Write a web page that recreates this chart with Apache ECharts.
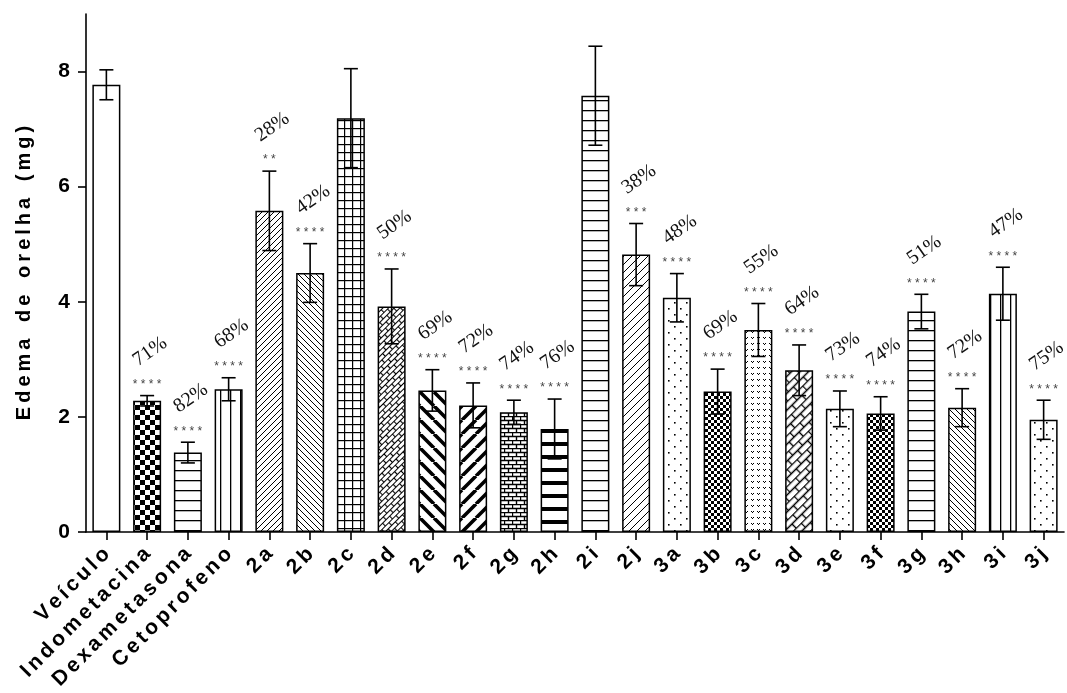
<!DOCTYPE html>
<html>
<head>
<meta charset="utf-8">
<script src="https://cdn.jsdelivr.net/npm/echarts@6/dist/echarts.min.js"></script>
<style>
html,body{margin:0;padding:0;background:#fff;}
#chart{width:1067px;height:693px;}
</style>
</head>
<body>
<div id="chart"></div>
<script>
// ---- data ----
const categories = ['Veículo','Indometacina','Dexametasona','Cetoprofeno','2a','2b','2c','2d','2e','2f','2g','2h','2i','2j','3a','3b','3c','3d','3e','3f','3g','3h','3i','3j'];
const means  = [7.77,2.28,1.38,2.48,5.58,4.50,7.19,3.92,2.46,2.20,2.08,1.79,7.58,4.82,4.07,2.44,3.51,2.81,2.14,2.06,3.83,2.16,4.14,1.95];
const errors = [0.26,0.09,0.18,0.20,0.69,0.51,0.86,0.65,0.36,0.39,0.21,0.52,0.86,0.54,0.42,0.39,0.46,0.44,0.31,0.29,0.30,0.33,0.46,0.34];
const inhibition = ['','71%','82%','68%','28%','42%','','50%','69%','72%','74%','76%','','38%','48%','69%','55%','64%','73%','74%','51%','72%','47%','75%'];
const significance = ['','****','****','****','**','****','','****','****','****','****','****','','***','****','****','****','****','****','****','****','****','****','****'];
const yTicks = [0,2,4,6,8];

// ---- styles (fill patterns per bar) ----
const patternNames = ['white','checker','hlines','vlines','diagR','diagL','grid','herring','thickL','thickR','brick','thickH','hlines','diagRwide','dots','fineChecker','vdots','herringBig','dots','fineChecker','hlines','diagL','vlines','dots'];

function mk(w,h,draw){
  const c=document.createElement('canvas'); c.width=w; c.height=h;
  const g=c.getContext('2d'); g.fillStyle='#fff'; g.fillRect(0,0,w,h);
  g.fillStyle='#000'; g.strokeStyle='#000'; draw(g,w,h); return c;
}
function diag(s,lw,dir){
  return mk(s,s,(g)=>{
    g.lineWidth=lw; g.beginPath();
    for(let k=-1;k<=1;k++){
      if(dir>0){ g.moveTo(k*s,s); g.lineTo(k*s+s,0); }
      else { g.moveTo(k*s,0); g.lineTo(k*s+s,s); }
    }
    g.stroke();
  });
}
function brick(w,h,lw){
  return mk(w,h*2,(g)=>{
    g.lineWidth=lw; g.beginPath();
    g.moveTo(0,0.5); g.lineTo(w,0.5);
    g.moveTo(0,h+0.5); g.lineTo(w,h+0.5);
    g.moveTo(0.5,0); g.lineTo(0.5,h);
    g.moveTo(w/2+0.5,h); g.lineTo(w/2+0.5,2*h);
    g.stroke();
  });
}
function makeFill(name){
  switch(name){
    case 'white': return '#fff';
    case 'checker': return {image: mk(10,10,g=>{g.fillRect(0,0,5,5);g.fillRect(5,5,5,5);}), repeat:'repeat'};
    case 'fineChecker': return {image: mk(6,6,g=>{g.fillRect(0,0,3,3);g.fillRect(3,3,3,3);}), repeat:'repeat'};
    case 'hlines': return {image: mk(4,10,g=>{g.fillRect(0,0,4,1.3);}), repeat:'repeat'};
    case 'vlines': return {image: mk(10,4,g=>{g.fillRect(0,0,1.3,4);}), repeat:'repeat'};
    case 'thickH': return {image: mk(4,13,g=>{g.fillRect(0,0,4,4);}), repeat:'repeat'};
    case 'grid': return {image: mk(8,8,g=>{g.fillRect(0,0,8,1.2);g.fillRect(0,0,1.2,8);}), repeat:'repeat'};
    case 'diagR': return {image: diag(6,1,1), repeat:'repeat'};
    case 'diagRwide': return {image: diag(8,1,1), repeat:'repeat'};
    case 'diagL': return {image: diag(6,1,-1), repeat:'repeat'};
    case 'thickR': return {image: diag(14,3.6,1), repeat:'repeat'};
    case 'thickL': return {image: diag(14,3.6,-1), repeat:'repeat'};
    case 'brick': return {image: brick(8,4,1.4), repeat:'repeat'};
    case 'herring': return {image: brick(10,4,1.2), repeat:'repeat', rotation:-Math.PI/4};
    case 'herringBig': return {image: brick(14,6,1.4), repeat:'repeat', rotation:-Math.PI/4};
    case 'dots': return {image: mk(12,12,g=>{g.fillRect(2,2,1.6,1.6);g.fillRect(8,8,1.6,1.6);}), repeat:'repeat'};
    case 'vdots': return {image: mk(6,6,g=>{g.fillRect(1,1,1,1);g.fillRect(3,1,1,1);g.fillRect(2,2,1,1);}), repeat:'repeat'};
  }
  return '#fff';
}

const GAP = '\u2006';
const track = s => s.split('').join(GAP);
const spacedName = s => s.split(' ').map(w => w.split('').join('\u2009')).join('   ');
const FONT = '"Liberation Sans", Arial, sans-serif';

const chart = echarts.init(document.getElementById('chart'), null, {renderer:'canvas'});
const option = {
  animation: false,
  backgroundColor: '#fff',
  grid: {left: 86, right: 3, top: 14, bottom: 161, outerBoundsMode: 'none', containLabel: false},
  xAxis: {
    type: 'category',
    data: categories,
    axisLine: {show: true, lineStyle: {color: '#000', width: 1.6}},
    axisTick: {show: true, alignWithLabel: true, length: 8, lineStyle: {color: '#000', width: 1.6}},
    axisLabel: {interval: 0, rotate: 45, margin: 19, color: '#000', fontSize: 21, fontWeight: 'bold', fontFamily: FONT,
      formatter: v => track(v)}
  },
  yAxis: {
    type: 'value', min: 0, max: 9, interval: 1,
    splitLine: {show: false},
    axisLine: {show: true, lineStyle: {color: '#000', width: 1.6}},
    axisTick: {show: true, length: 8, lineStyle: {color: '#000', width: 1.6}, customValues: yTicks},
    axisLabel: {margin: 16, color: '#000', fontSize: 21, fontWeight: 'bold', fontFamily: FONT, customValues: yTicks},
    name: spacedName('Edema de orelha (mg)'),
    nameLocation: 'middle', nameGap: 52,
    nameTextStyle: {color: '#000', fontSize: 20, fontWeight: 'bold', fontFamily: FONT}
  },
  series: [
    {
      type: 'bar',
      barWidth: 28,
      data: means.map((v, i) => ({value: v, itemStyle: {color: makeFill(patternNames[i])}})),
      itemStyle: {borderColor: '#000', borderWidth: 1.5},
      z: 2
    },
    {
      type: 'custom',
      z: 3,
      data: categories.map((c, i) => [i, means[i], errors[i]]),
      encode: {x: 0, y: 1},
      renderItem: function (params, api) {
        const i = api.value(0), m = api.value(1), e = api.value(2);
        const top = api.coord([i, m + e]);
        const bot = api.coord([i, m - e]);
        const x = top[0], hw = 7;
        const ls = {stroke: '#000', lineWidth: 1.6};
        const children = [
          {type: 'line', shape: {x1: x, y1: top[1], x2: x, y2: bot[1]}, style: ls},
          {type: 'line', shape: {x1: x - hw, y1: top[1], x2: x + hw, y2: top[1]}, style: ls},
          {type: 'line', shape: {x1: x - hw, y1: bot[1], x2: x + hw, y2: bot[1]}, style: ls}
        ];
        const idx = params.dataIndex;
        if (significance[idx]) {
          children.push({type: 'text', x: x, y: top[1] - 11,
            style: {text: significance[idx].split('').join(' '), fill: '#444', font: '12px ' + FONT, align: 'center', verticalAlign: 'middle'}});
        }
        if (inhibition[idx]) {
          children.push({type: 'text', x: x + 3, y: top[1] - 44, rotation: 35 * Math.PI / 180,
            style: {text: inhibition[idx], fill: '#111', font: '20px "Liberation Serif", "Times New Roman", serif', align: 'center', verticalAlign: 'middle'}});
        }
        return {type: 'group', children: children};
      }
    }
  ]
};
chart.setOption(option);
</script>
</body>
</html>
